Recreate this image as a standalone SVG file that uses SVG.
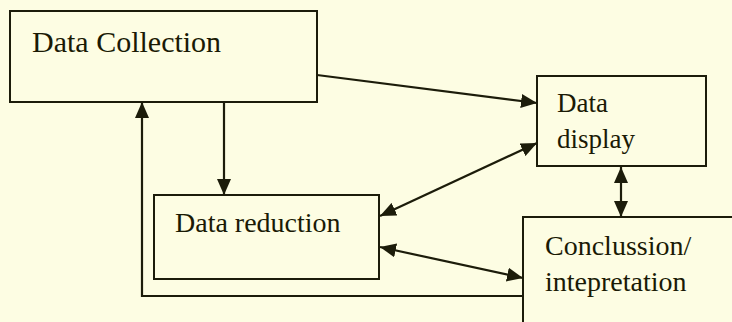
<svg xmlns="http://www.w3.org/2000/svg" width="732" height="322" viewBox="0 0 732 322">
  <style>
    .box { fill: none; stroke: #1c1c0a; stroke-width: 2; }
    .lbl { font-family: "Liberation Serif", "Times New Roman", serif; fill: #1a1a05; }
    .con { fill: none; stroke: #1c1c0a; stroke-width: 2.2; }
  </style>
  <defs>
    <marker id="ah" markerUnits="userSpaceOnUse" markerWidth="16" markerHeight="14" refX="16" refY="7" orient="auto-start-reverse" viewBox="0 0 16 14">
      <path d="M0,0 L16,7 L0,14 z" fill="#1c1c0a"/>
    </marker>
  </defs>
  <rect x="0" y="0" width="732" height="322" fill="#fdfde3"/>

  <g id="node-collection">
    <rect class="box" x="10" y="11" width="307" height="91"/>
    <text class="lbl" x="32" y="52" font-size="30">Data Collection</text>
  </g>
  <g id="node-display">
    <rect class="box" x="537" y="76" width="169" height="90"/>
    <text class="lbl" x="557" y="112" font-size="27">Data</text>
    <text class="lbl" x="557" y="148" font-size="27">display</text>
  </g>
  <g id="node-reduction">
    <rect class="box" x="154" y="195" width="225" height="84"/>
    <text class="lbl" x="175" y="232" font-size="28">Data reduction</text>
  </g>
  <g id="node-conclusion">
    <rect class="box" x="523" y="217" width="240" height="130"/>
    <text class="lbl" x="545" y="255" font-size="28">Conclussion/</text>
    <text class="lbl" x="545" y="291" font-size="28">intepretation</text>
  </g>

  <g id="connectors">
    <line class="con" x1="317" y1="75" x2="537" y2="103" marker-end="url(#ah)"/>
    <line class="con" x1="224" y1="102" x2="224" y2="195" marker-end="url(#ah)"/>
    <line class="con" x1="537" y1="143" x2="380" y2="216" marker-start="url(#ah)" marker-end="url(#ah)"/>
    <line class="con" x1="380" y1="247" x2="523" y2="278" marker-start="url(#ah)" marker-end="url(#ah)"/>
    <line class="con" x1="621" y1="167" x2="621" y2="217" marker-start="url(#ah)" marker-end="url(#ah)"/>
    <polyline class="con" points="523,296 142,296 142,102" marker-end="url(#ah)"/>
  </g>
</svg>
